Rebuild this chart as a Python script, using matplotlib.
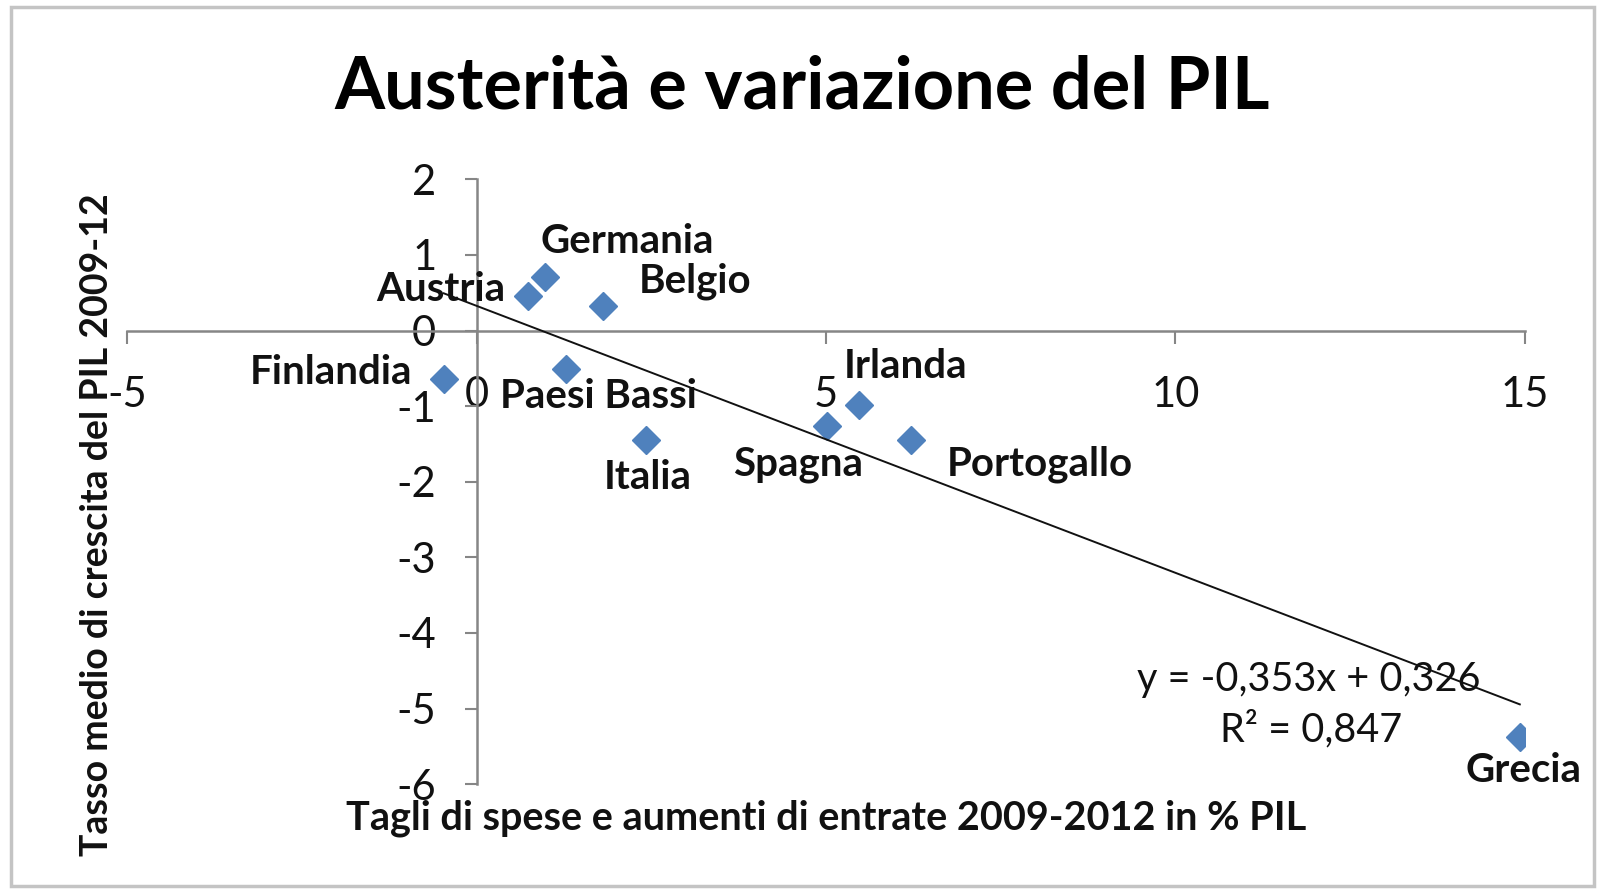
import matplotlib
matplotlib.use("Agg")
import matplotlib.pyplot as plt
from matplotlib.patches import Rectangle
import numpy as np

plt.rcParams['font.family'] = ['Lato', 'DejaVu Sans']

# ---- data ----
countries = ["Austria", "Germania", "Belgio", "Finlandia", "Paesi Bassi",
             "Italia", "Spagna", "Irlanda", "Portogallo", "Grecia"]
cuts = [0.73, 0.98, 1.81, -0.47, 1.28, 2.43, 5.01, 5.47, 6.22, 14.93]
growth = [0.46, 0.71, 0.32, -0.64, -0.51, -1.45, -1.26, -0.99, -1.45, -5.38]
trend_slope = -0.353
trend_intercept = 0.326
r_squared = 0.847
x_ticks = [-5, 0, 5, 10, 15]
y_ticks = [-6, -5, -4, -3, -2, -1, 0, 1, 2]

title = "Austerità e variazione del PIL"
x_title = "Tagli di spese e aumenti di entrate 2009-2012 in % PIL"
y_title = "Tasso medio di crescita del PIL 2009-12"

# label offsets (pixels) for each data label
label_offsets = [(-87, 6), (82, 35), (92, 25), (-113, 6), (32, -27),
                 (1, -37), (-29, -39), (47, 39), (129, -24), (4, -33)]

W, H = 1597, 890
fig = plt.figure(figsize=(W / 100, H / 100), dpi=100)
fig.patch.set_facecolor("white")

# chart border
fig.add_artist(Rectangle((11 / W, 4 / H), (1594 - 11) / W, (883 - 4) / H,
                         transform=fig.transFigure, fill=False,
                         edgecolor="#c4c4c4", lw=2.5))

ax = fig.add_axes([127.3 / W, 1 - 784.2 / H, (1524.7 - 127.3) / W, (784.2 - 179.3) / H])
ax.set_xlim(-5, 15)
ax.set_ylim(-6, 2)
ax.set_facecolor("none")

for s in ["top", "right"]:
    ax.spines[s].set_visible(False)
ax.spines["left"].set_position(("data", 0))
ax.spines["bottom"].set_position(("data", 0))
for s in ["left", "bottom"]:
    ax.spines[s].set_color("#868686")
    ax.spines[s].set_linewidth(1.8)

ax.set_xticks(x_ticks)
ax.set_yticks(y_ticks)
ax.set_xticklabels([str(v) for v in x_ticks])
ax.set_yticklabels([str(v) for v in y_ticks])
ax.tick_params(axis="both", direction="out", length=9, width=1.5, color="#868686",
               labelsize=30, labelcolor="#111111")
ax.tick_params(axis="y", pad=20)
ax.tick_params(axis="x", pad=24)

# trendline
xs = np.array([min(cuts), max(cuts)])
ax.plot(xs, trend_slope * xs + trend_intercept, color="#111111", lw=1.4, zorder=4)

# points
ax.plot(cuts, growth, linestyle="none", marker="D", markersize=14.5,
        color="#4F81BD", markeredgecolor="#4F81BD", zorder=3)

for name, x, y, off in zip(countries, cuts, growth, label_offsets):
    ax.annotate(name, (x, y), xytext=off, textcoords="offset pixels",
                ha="center", va="center", fontsize=29, fontweight="bold",
                color="#111111", zorder=5)

eq = "y = {}x + {}".format(f"{trend_slope:.3f}".replace(".", ","),
                           f"{trend_intercept:.3f}".replace(".", ","))
r2 = "R² = {}".format(f"{r_squared:.3f}".replace(".", ","))
fig.text(1309 / W, 1 - 679 / H, eq, ha="center", va="center", fontsize=28.5, color="#111111")
fig.text(1311 / W, 1 - 729 / H, r2, ha="center", va="center", fontsize=28.5, color="#111111")

fig.text(802 / W, 1 - 88 / H, title, ha="center", va="center", fontsize=52,
         fontweight="bold", color="#000000")
fig.text(826 / W, 1 - 818 / H, x_title, ha="center", va="center", fontsize=28.5,
         fontweight="bold", color="#111111")
fig.text(97 / W, 1 - 525 / H, y_title, ha="center", va="center", fontsize=27,
         fontweight="bold", rotation=90, color="#111111")

fig.savefig("out.png", dpi=100)
